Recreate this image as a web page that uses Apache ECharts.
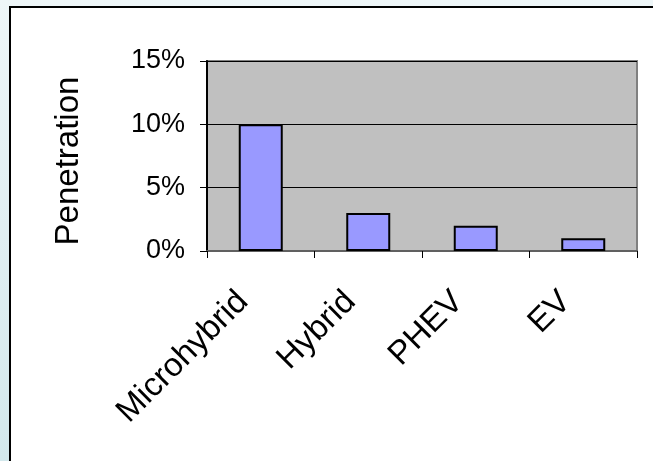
<!DOCTYPE html>
<html>
<head>
<meta charset="utf-8">
<script src="https://cdn.jsdelivr.net/npm/echarts@6/dist/echarts.min.js"></script>
<style>
  html, body { margin: 0; padding: 0; }
  #chart { width: 653px; height: 461px; }
</style>
</head>
<body>
<div id="chart"></div>
<script>
// Market penetration by powertrain type
const categories = ['Microhybrid', 'Hybrid', 'PHEV', 'EV'];
const penetration = [10, 3, 2, 1];          // percent
const yTicks = { min: 0, max: 15, step: 5 }; // percent

const FONT = 'Liberation Sans, Arial, sans-serif';

const chart = echarts.init(document.getElementById('chart'), null, { renderer: 'canvas' });

chart.setOption({
  animation: false,
  backgroundColor: new echarts.graphic.LinearGradient(0, 0, 0, 1, [
    { offset: 0, color: '#eef6f8' },
    { offset: 1, color: '#d3e8ec' }
  ]),
  graphic: [
    {
      type: 'rect',
      z: -10,
      silent: true,
      shape: { x: 10, y: 7, width: 700, height: 500 },
      style: { fill: '#ffffff', stroke: '#000000', lineWidth: 2 }
    }
  ],
  grid: {
    left: 207, top: 61, width: 430, height: 190,
    show: true,
    backgroundColor: '#c0c0c0',
    borderColor: '#808080',
    borderWidth: 2
  },
  xAxis: {
    type: 'category',
    data: categories,
    boundaryGap: true,
    axisLine: { show: true, lineStyle: { color: '#606060', width: 2 } },
    axisTick: { show: true, length: 7, lineStyle: { color: '#000', width: 1 } },
    axisLabel: {
      interval: 0,
      rotate: 45,
      margin: 28,
      padding: [0, 25, 0, 0],
      color: '#000',
      fontFamily: FONT,
      fontSize: 33
    }
  },
  yAxis: {
    type: 'value',
    min: yTicks.min,
    max: yTicks.max,
    interval: yTicks.step,
    name: 'Penetration',
    nameLocation: 'middle',
    nameGap: 122,
    nameRotate: 90,
    nameTextStyle: { color: '#000', fontFamily: FONT, fontSize: 33, padding: [0, 10, 0, 0] },
    axisLine: { show: true, lineStyle: { color: '#000', width: 2 } },
    axisTick: { show: true, length: 7, lineStyle: { color: '#000', width: 1 } },
    axisLabel: {
      margin: 22,
      color: '#000',
      fontFamily: FONT,
      fontSize: 27,
      formatter: v => v + '%'
    },
    splitLine: { show: true, lineStyle: { color: '#000', width: 1 } }
  },
  series: [
    {
      type: 'bar',
      data: penetration,
      barWidth: 44,
      itemStyle: { color: '#9999ff', borderColor: '#000', borderWidth: 2 }
    }
  ]
});
</script>
</body>
</html>
